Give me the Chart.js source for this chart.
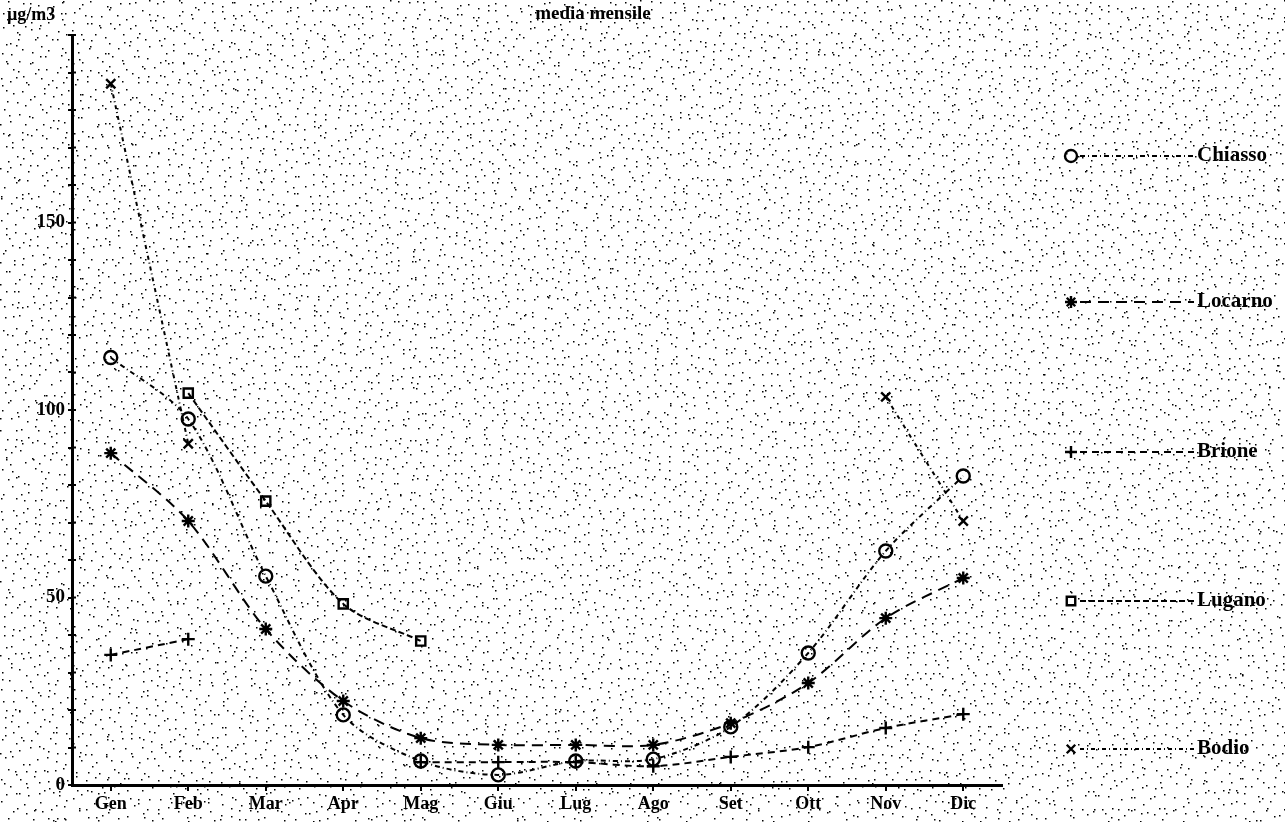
<!DOCTYPE html>
<html>
<head>
<meta charset="utf-8">
<title>media mensile</title>
<script src="https://cdn.jsdelivr.net/npm/chart.js@4"></script>
<style>
  html, body { margin: 0; padding: 0; background: #fff; }
  #wrap { width: 1285px; height: 822px; }
</style>
</head>
<body>
<div id="wrap"><canvas id="chart" width="1285" height="822"></canvas></div>
<script>
// dati (µg/m3, media mensile)
var mesi = ['Gen', 'Feb', 'Mar', 'Apr', 'Mag', 'Giu', 'Lug', 'Ago', 'Set', 'Ott', 'Nov', 'Dic'];
var chiasso = [114, 97.6, 55.7, 18.7, 6.4, 2.7, 6.4, 6.9, 15.5, 35.2, 62.4, 82.4];
var locarno = [88.5, 70.4, 41.6, 22.4, 12.5, 10.7, 10.7, 10.7, 16.5, 27.2, 44.5, 55.2];
var brione  = [34.7, 38.9, null, null, 6.1, 6.1, 6.1, 5.0, 7.5, 10.1, 15.2, 18.9];
var lugano  = [null, 104.5, 75.7, 48.3, 38.4, null, null, null, null, null, null, null];
var bodio   = [187, 91, null, null, null, null, null, null, null, null, 103.5, 70.4];
var yTickLabels = [0, 50, 100, 150];

var fontSerif = '"Liberation Serif", "DejaVu Serif", serif';

function serie(label, data, style, dash) {
    return {
        label: label,
        data: data,
        borderColor: '#000',
        backgroundColor: 'rgba(0,0,0,0)',
        borderWidth: 2,
        borderDash: dash,
        pointStyle: style,
        pointRadius: 6.5,
        pointBorderWidth: 2.4,
        pointBorderColor: '#000',
        pointBackgroundColor: 'rgba(0,0,0,0)',
        tension: 0.3,
        spanGaps: false,
        fill: false
    };
}

// sfondo puntinato (solo decorazione, griglia con scarto casuale)
var stipple = {
    id: 'stipple',
    beforeDraw: function(chart) {
        var c = chart.ctx;
        c.save();
        c.fillStyle = '#fff';
        c.fillRect(0, 0, chart.width, chart.height);
        c.fillStyle = '#000';
        var a = 987654321;
        function rnd() {
            a |= 0; a = a + 0x6D2B79F5 | 0;
            var t = Math.imul(a ^ a >>> 15, 1 | a);
            t = t + Math.imul(t ^ t >>> 7, 61 | t) ^ t;
            return ((t ^ t >>> 14) >>> 0) / 4294967296;
        }
        var cell = 9;
        for (var gy = 0; gy < chart.height; gy += cell) {
            for (var gx = 0; gx < chart.width; gx += cell) {
                c.fillRect(Math.floor(gx + rnd() * cell), Math.floor(gy + rnd() * cell), 1.5, 1.5);
            }
        }
        c.restore();
    }
};

// titolo, unità e legenda a destra
var extras = {
    id: 'extras',
    afterDraw: function(chart) {
        var c = chart.ctx;
        c.save();
        c.fillStyle = '#000';
        c.font = 'bold 19px ' + fontSerif;
        c.textBaseline = 'middle';
        c.textAlign = 'center';
        c.fillText('media mensile', 593, 14);
        c.textAlign = 'left';
        c.font = 'bold 18px ' + fontSerif;
        c.fillText('\u00b5g/m3', 7, 15);

        // tacche interne dell'asse y
        var y = chart.scales.y;
        c.strokeStyle = '#000';
        c.lineWidth = 2;
        for (var v = 0; v <= 200; v += 10) {
            var py = y.getPixelForValue(v);
            c.beginPath();
            c.moveTo(chart.chartArea.left, py);
            c.lineTo(chart.chartArea.left + 4, py);
            c.stroke();
        }

        var ys = [156, 302, 452, 601, 749];
        chart.data.datasets.forEach(function(ds, i) {
            var ly = ys[i];
            c.strokeStyle = '#000';
            c.lineWidth = 2;
            c.setLineDash(ds.borderDash);
            c.beginPath();
            c.moveTo(1080, ly);
            c.lineTo(1194, ly);
            c.stroke();
            c.setLineDash([]);
            c.fillStyle = 'rgba(0,0,0,0)';
            c.lineWidth = 2.4;
            Chart.helpers.drawPoint(c, {
                pointStyle: ds.pointStyle, radius: 6, borderWidth: 2.4, rotation: 0
            }, 1071, ly);
            c.fillStyle = '#000';
            c.font = 'bold 21px ' + fontSerif;
            c.textAlign = 'left';
            c.fillText(ds.label, 1197, ly);
        });
        c.restore();
    }
};

var ctx = document.getElementById('chart');
new Chart(ctx, {
    type: 'line',
    data: {
        labels: mesi,
        datasets: [
            serie('Chiasso', chiasso, 'circle', [5, 3, 1, 3]),
            serie('Locarno', locarno, 'star', [11, 7]),
            serie('Brione', brione, 'cross', [7, 5]),
            serie('Lugano', lugano, 'rect', [6, 3]),
            serie('Bodio', bodio, 'crossRot', [4, 3, 1, 3])
        ]
    },
    options: {
        responsive: false,
        animation: false,
        layout: { padding: { top: 35, right: 283, left: 0, bottom: 0 } },
        plugins: {
            legend: { display: false },
            title: { display: false },
            tooltip: { enabled: false }
        },
        scales: {
            x: {
                offset: true,
                grid: { display: true, drawOnChartArea: false, drawTicks: true, tickLength: 6, color: '#000', lineWidth: 2 },
                border: { display: true, color: '#000', width: 3 },
                ticks: { color: '#000', font: { family: fontSerif, size: 18, weight: 'bold' }, padding: 3, maxRotation: 0, autoSkip: false },
                afterFit: function(s) { s.height = 37; }
            },
            y: {
                min: 0,
                max: 200,
                grid: { display: true, drawOnChartArea: false, drawTicks: true, tickLength: 4, color: '#000', lineWidth: 2 },
                border: { display: true, color: '#000', width: 3 },
                ticks: {
                    stepSize: 10,
                    autoSkip: false,
                    color: '#000',
                    padding: 3,
                    font: { family: fontSerif, size: 19, weight: 'bold' },
                    callback: function(v) { return yTickLabels.indexOf(v) >= 0 ? String(v) : ''; }
                },
                afterFit: function(s) { s.width = 72; }
            }
        }
    },
    plugins: [stipple, extras]
});
</script>
</body>
</html>
